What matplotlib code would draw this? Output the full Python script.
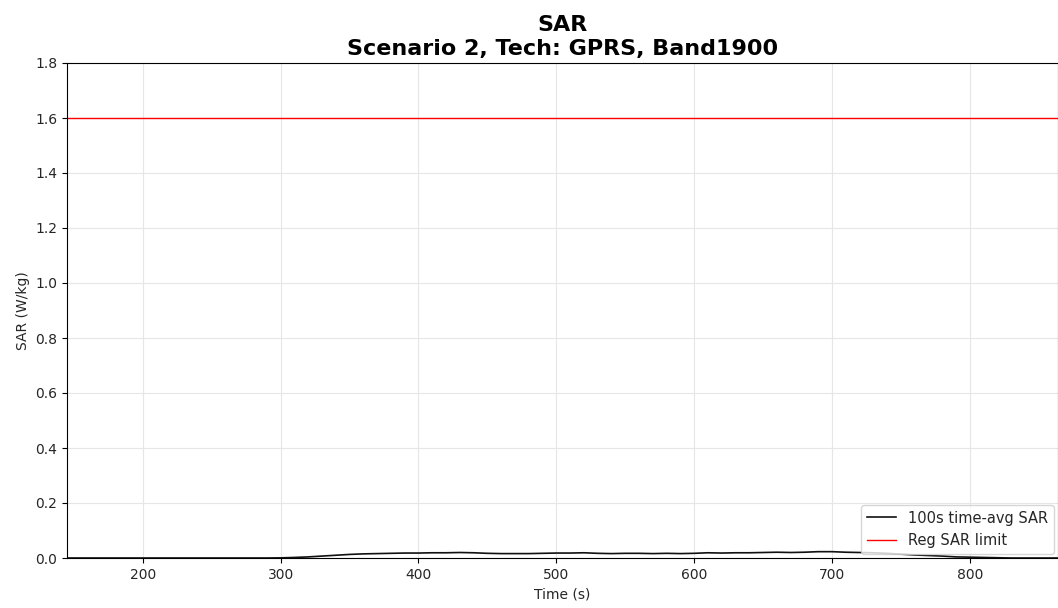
import numpy as np
import matplotlib
matplotlib.use("Agg")
import matplotlib.pyplot as plt

# time axis (s) and 100s time-averaged SAR (W/kg)
time_s = [145, 150, 160, 170, 180, 190, 200, 210, 220, 230, 240, 250, 260, 270, 280, 290, 300,
          310, 320, 330, 340, 350, 360, 370, 380, 390, 400, 410, 420, 430, 440, 450, 460,
          470, 480, 490, 500, 510, 520, 530, 540, 550, 560, 570, 580, 590, 600, 610, 620,
          630, 640, 650, 660, 670, 680, 690, 700, 710, 720, 730, 740, 750, 760, 770, 780,
          790, 800, 810, 820, 830, 840, 850, 864]
sar_avg = [0.0, 0.0, 0.0, 0.0, 0.0, 0.0, 0.0, 0.0, 0.0, 0.0, 0.0, 0.0, 0.0, 0.0, 0.0, 0.0, 0.0005,
           0.002, 0.004, 0.007, 0.010, 0.013, 0.015, 0.016, 0.017, 0.018, 0.018, 0.019, 0.019, 0.020, 0.019, 0.017, 0.016,
           0.016, 0.016, 0.017, 0.018, 0.018, 0.019, 0.017, 0.016, 0.017, 0.017, 0.016, 0.017, 0.016, 0.017, 0.019, 0.018,
           0.019, 0.019, 0.020, 0.021, 0.020, 0.021, 0.023, 0.023, 0.021, 0.020, 0.019, 0.017, 0.014, 0.011, 0.009, 0.007,
           0.004, 0.003, 0.002, 0.001, 0.0, 0.0, 0.0, 0.0]
sar_limit = 1.6

text_col = "#262626"
plt.rcParams["text.color"] = text_col
plt.rcParams["axes.labelcolor"] = text_col
plt.rcParams["xtick.labelcolor"] = text_col
plt.rcParams["ytick.labelcolor"] = text_col

fig = plt.figure(figsize=(10.58, 6.08), dpi=100)
ax = fig.add_axes([67 / 1058, 1 - 558 / 608, (1058 - 67) / 1058, 495 / 608])

ax.plot(time_s, sar_avg, color="#111111", lw=1.2, label="100s time-avg SAR")
ax.axhline(sar_limit, color="red", lw=1.0, label="Reg SAR limit")

ax.set_xlim(time_s[0], time_s[-1])
ax.set_ylim(0, 1.8)
ax.set_yticks(np.arange(0, 1.81, 0.2))
ax.grid(True, color="#e6e6e6", lw=0.8)
ax.set_xlabel("Time (s)", labelpad=4)
ax.set_ylabel("SAR (W/kg)")
ax.set_title("SAR\nScenario 2, Tech: GPRS, Band1900", fontsize=16, fontweight="bold",
             color="black", pad=6)
ax.legend(loc="lower right", fontsize=10.5, borderaxespad=0.3)

fig.savefig("out.png", dpi=100)
